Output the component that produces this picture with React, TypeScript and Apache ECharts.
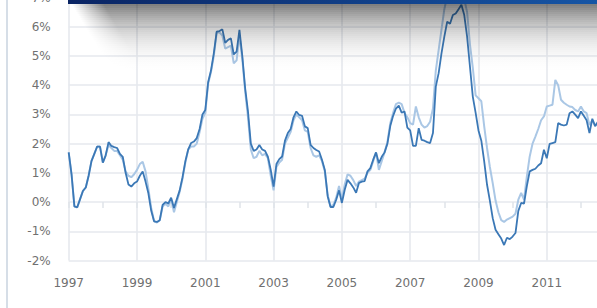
import React, { useEffect, useRef } from "react";
import * as echarts from "echarts";

// Monthly observations, Jan 1997 .. Jul 2012
const startYear = 1997;
const yearLabels = ["1997", "1999", "2001", "2003", "2005", "2007", "2009", "2011"];
const yTicks = [-2, -1, 0, 1, 2, 3, 4, 5, 6, 7];

const darkSeries = [
  1.70, 0.95, -0.15, -0.18, 0.10, 0.38, 0.50, 0.90, 1.40, 1.65, 1.90, 1.90,
  1.35, 1.60, 2.05, 1.92, 1.88, 1.85, 1.65, 1.55, 1.00, 0.60, 0.53, 0.64,
  0.70, 0.90, 1.05, 0.70, 0.30, -0.30, -0.66, -0.68, -0.62, -0.10, 0.00, -0.05,
  0.15, -0.20, 0.10, 0.40, 0.85, 1.40, 1.80, 2.02, 2.07, 2.19, 2.50, 3.00,
  3.15, 4.10, 4.50, 5.10, 5.83, 5.85, 5.91, 5.45, 5.55, 5.60, 5.05, 5.15,
  5.89, 5.00, 3.90, 3.10, 2.00, 1.75, 1.80, 1.95, 1.80, 1.75, 1.55, 1.10,
  0.53, 1.30, 1.47, 1.56, 2.10, 2.36, 2.50, 2.90, 3.10, 2.98, 2.95, 2.59,
  2.53, 1.96, 1.85, 1.78, 1.73, 1.45, 1.10, 0.20, -0.17, -0.17, 0.08, 0.40,
  -0.03, 0.42, 0.76, 0.64, 0.50, 0.32, 0.65, 0.70, 0.72, 1.05, 1.16, 1.45,
  1.70, 1.33, 1.55, 1.70, 2.00, 2.60, 2.95, 3.20, 3.30, 3.06, 3.10, 2.55,
  2.45, 1.92, 1.92, 2.53, 2.13, 2.10, 2.05, 2.02, 2.36, 3.95, 4.41, 5.09,
  5.66, 6.17, 6.10, 6.40, 6.45, 6.60, 6.75, 6.40, 5.66, 4.64, 3.61, 3.05,
  2.45, 2.10, 1.40, 0.60, 0.05, -0.55, -0.95, -1.10, -1.25, -1.47, -1.22, -1.27,
  -1.18, -1.06, -0.30, -0.03, -0.05, 0.55, 1.05, 1.10, 1.14, 1.25, 1.33, 1.79,
  1.50, 1.99, 2.02, 2.05, 2.70, 2.65, 2.62, 2.65, 3.04, 3.10, 2.99, 2.87,
  3.10, 2.95, 2.80, 2.36, 2.85, 2.60, 2.75,
];

const lightSeries = [
  1.70, 0.95, -0.15, -0.18, 0.10, 0.38, 0.50, 0.90, 1.40, 1.65, 1.90, 1.90,
  1.35, 1.60, 1.95, 1.85, 1.75, 1.75, 1.60, 1.45, 1.05, 0.90, 0.85, 0.95,
  1.10, 1.30, 1.38, 1.05, 0.45, -0.20, -0.65, -0.70, -0.62, -0.15, -0.05, -0.15,
  0.10, -0.35, 0.00, 0.35, 0.80, 1.35, 1.80, 1.90, 1.90, 2.00, 2.40, 2.85,
  3.05, 4.05, 4.45, 5.00, 5.80, 5.80, 5.70, 5.25, 5.30, 5.35, 4.75, 4.85,
  5.70, 4.90, 3.80, 2.90, 1.80, 1.50, 1.55, 1.75, 1.60, 1.65, 1.50, 0.90,
  0.40, 1.20, 1.35, 1.45, 2.00, 2.20, 2.40, 2.80, 3.00, 2.90, 2.80, 2.45,
  2.40, 1.85, 1.60, 1.55, 1.60, 1.40, 1.05, 0.25, -0.15, -0.10, 0.15, 0.55,
  0.10, 0.60, 0.95, 0.90, 0.75, 0.55, 0.70, 0.75, 0.80, 1.00, 1.10, 1.40,
  1.70, 1.10, 1.40, 1.70, 2.05, 2.70, 3.05, 3.35, 3.40, 3.35, 3.05, 2.90,
  2.70, 2.65, 3.27, 2.90, 2.65, 2.55, 2.60, 2.75, 3.20, 4.50, 5.20, 5.90,
  6.60, 7.05, 7.30, 7.45, 7.55, 7.50, 7.30, 6.95, 6.50, 5.40, 4.60, 3.65,
  3.55, 3.45, 2.60, 1.85, 1.20, 0.65, 0.05, -0.35, -0.62, -0.68, -0.60, -0.55,
  -0.50, -0.40, 0.08, 0.31, 0.08, 0.88, 1.56, 2.00, 2.24, 2.50, 2.80, 2.93,
  3.27, 3.30, 3.33, 4.18, 4.00, 3.50, 3.40, 3.33, 3.27, 3.25, 3.15, 3.10,
  3.27, 3.10, 3.04, 2.64, 2.80, 2.60, 2.70,
];

const months: string[] = [];
for (let i = 0; i < darkSeries.length; i++) {
  const y = startYear + Math.floor(i / 12);
  const mo = (i % 12) + 1;
  months.push(`${y}-${mo < 10 ? "0" + mo : mo}`);
}

// The chart canvas is slightly larger than the window and shifted up so the
// top of the plot (7%) sits just above the visible area, as in the reference.
const OFFSET_Y = 10;
const W = 600;
const H = 318;

// Shadow strips under the header band (decoration)
function shadowStrips() {
  const out: any[] = [];
  const top = OFFSET_Y + 4;
  const total = 72;
  const step = 2;
  for (let d = 0; d < total; d += step) {
    const t = d / total;
    const a = 0.5 * Math.pow(1 - t, 2.4);
    // left end fades out more, curving the shadow edge
    const leftInset = 4 + d * 0.6;
    out.push({
      type: "rect",
      z: 99,
      silent: true,
      shape: { x: 68 + leftInset, y: top + d, width: 540, height: step },
      style: {
        fill: new echarts.graphic.LinearGradient(0, 0, 1, 0, [
          { offset: 0, color: `rgba(0,0,0,0)` },
          { offset: 0.06, color: `rgba(0,0,0,${a.toFixed(3)})` },
          { offset: 1, color: `rgba(0,0,0,${a.toFixed(3)})` },
        ]),
      },
    });
  }
  return out;
}

export default function App() {
  const ref = useRef<HTMLDivElement>(null);
  useEffect(() => {
    if (!ref.current) return;
    const chart = echarts.init(ref.current, undefined, { renderer: "svg" });
    const font = "DejaVu Sans";
    chart.setOption({
      animation: false,
      backgroundColor: "#ffffff",
      grid: { left: 68.7, right: 2, top: OFFSET_Y - 2.5, bottom: H - (260.5 + OFFSET_Y), containLabel: false },
      xAxis: {
        type: "category",
        data: months,
        boundaryGap: false,
        axisLine: { show: false },
        axisTick: {
          show: true,
          length: 6,
          interval: (i: number) => i % 12 === 0,
          lineStyle: { color: "#dfe3e8", width: 1.5 },
        },
        splitLine: {
          show: true,
          interval: (i: number) => i % 24 === 0,
          lineStyle: { color: "#e6e9ee", width: 1.6 },
        },
        axisLabel: {
          interval: (i: number) => i % 24 === 0,
          formatter: (v: string) => {
            const y = v.slice(0, 4);
            return yearLabels.indexOf(y) >= 0 ? y : "";
          },
          margin: 16,
          color: "#707070",
          fontFamily: font,
          fontSize: 12,
        },
      },
      yAxis: {
        type: "value",
        min: yTicks[0],
        max: yTicks[yTicks.length - 1],
        interval: 1,
        axisLine: { show: false },
        axisTick: { show: false },
        splitLine: { lineStyle: { color: "#e6e9ee", width: 1.6 } },
        axisLabel: {
          formatter: "{value}%",
          margin: 18,
          color: "#707070",
          fontFamily: font,
          fontSize: 12,
        },
      },
      series: [
        {
          type: "line",
          data: lightSeries,
          symbol: "none",
          lineStyle: { color: "#aac7e5", width: 2 },
          z: 2,
        },
        {
          type: "line",
          data: darkSeries,
          symbol: "none",
          lineStyle: { color: "#3b78b6", width: 1.8 },
          z: 3,
        },
      ],
      graphic: [
        {
          type: "line",
          z: 100,
          shape: { x1: 7, y1: 0, x2: 7, y2: H },
          style: { stroke: "#d6dee7", lineWidth: 2 },
        },
        ...shadowStrips(),
        {
          type: "rect",
          z: 100,
          shape: { x: 68, y: OFFSET_Y - 30, width: 540, height: 34 },
          style: {
            fill: new echarts.graphic.LinearGradient(0, 0, 1, 0, [
              { offset: 0, color: "#0a2463" },
              { offset: 1, color: "#1656a6" },
            ]),
          },
        },
      ],
    });
    return () => chart.dispose();
  }, []);
  return (
    <div style={{ position: "fixed", left: 0, top: 0, width: 597, height: 308, overflow: "hidden", background: "#fff" }}>
      <div ref={ref} style={{ position: "absolute", left: 0, top: -OFFSET_Y, width: W, height: H }} />
    </div>
  );
}
